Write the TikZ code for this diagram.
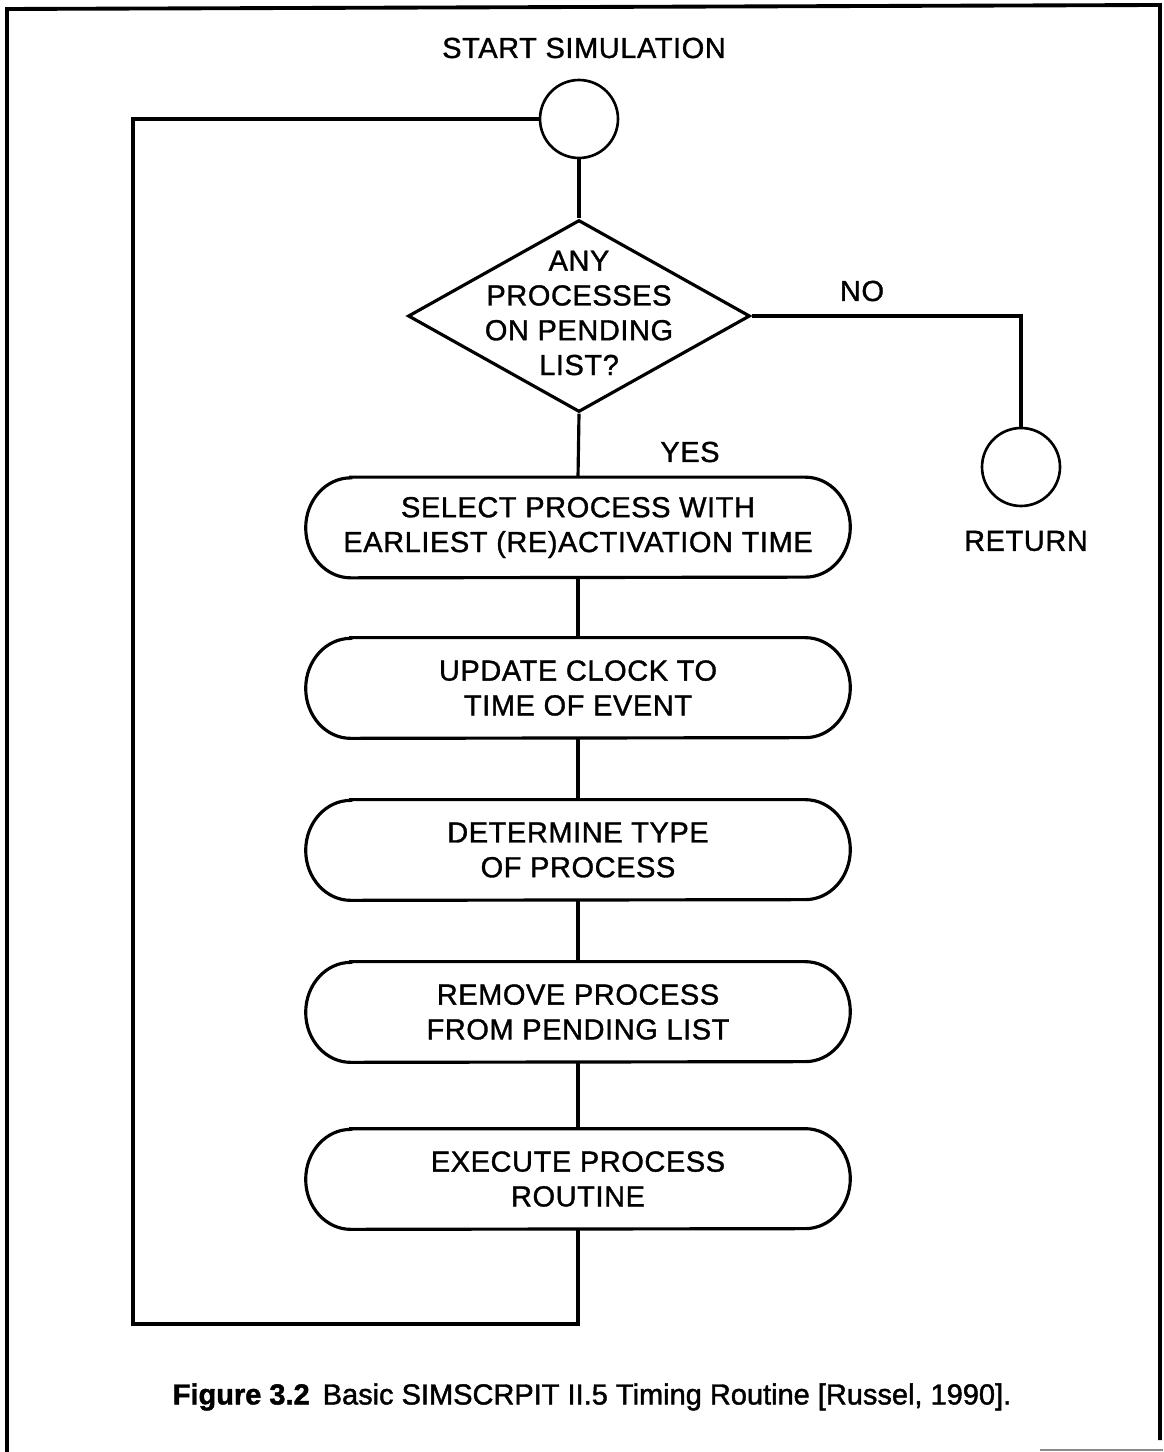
\documentclass[tikz,border=0pt]{standalone}
\usepackage{fontspec}
\setmainfont{Liberation Sans}[LetterSpace=2]
\newfontfamily\flowfont{Liberation Sans}[LetterSpace=2, FakeBold=1.2]
\newfontfamily\capfont{Liberation Sans}[FakeBold=1.5]
\usetikzlibrary{shapes.geometric}
\newcommand\stadiumoutline[1]{%
  \draw[ln] ([xshift=0.9cm]#1.north west) -- ([xshift=-0.9cm]#1.north east)
    arc[start angle=90,end angle=-90,x radius=0.9cm,y radius=1cm]
    -- ([xshift=0.9cm]#1.south west)
    arc[start angle=270,end angle=90,x radius=0.9cm,y radius=1cm] -- cycle;}
\begin{document}
\begin{tikzpicture}[x=0.02cm,y=0.02cm,
  every node/.style={font=\flowfont\fontsize{16.5}{19.8}\selectfont, align=center, inner sep=0pt},
  ln/.style={line width=1.8pt},
  boxnode/.style={rectangle, minimum width=10.88cm, minimum height=2cm},
  circ/.style={circle, draw, line width=1.5pt, minimum size=1.56cm},
]
\useasboundingbox (0,0) rectangle (1163,-1452);
% frame
\draw[line width=2.2pt] (7,-1452) -- (7,-9) -- (1160,-5) -- (1160,-1440);
\draw[line width=1pt, black!45] (1040,-1450) -- (1163,-1450);

\node (title) at (584,-48) {START SIMULATION};
\node[circ] (start) at (579,-119) {};
\node[diamond, draw, ln, minimum width=6.84cm, minimum height=3.84cm] (dec) at (579,-316) {};
\node (dectext) at (579,-313) {ANY\\PROCESSES\\ON PENDING\\LIST?};
\node[boxnode] (b1) at (578,-527.5) {SELECT PROCESS WITH\\EARLIEST (RE)ACTIVATION TIME};
\node[boxnode] (b2) at (578,-688) {UPDATE CLOCK TO\\TIME OF EVENT};
\node[boxnode] (b3) at (578,-850) {DETERMINE TYPE\\OF PROCESS};
\node[boxnode] (b4) at (578,-1012) {REMOVE PROCESS\\FROM PENDING LIST};
\node[boxnode] (b5) at (578,-1179) {EXECUTE PROCESS\\ROUTINE};
\stadiumoutline{b1}
\stadiumoutline{b2}
\stadiumoutline{b3}
\stadiumoutline{b4}
\stadiumoutline{b5}
\node[circ] (ret) at (1021,-467) {};
\node (rettext) at (1026,-541) {RETURN};
\node (no) at (862,-291) {NO};
\node (yes) at (690,-452) {YES};
\coordinate (lb) at (133,-1324);

\draw[ln] (start.south) -- (dec.north);
\draw[ln] (dec.south) -- (b1.north);
\draw[ln] (b1.south) -- (b2.north);
\draw[ln] (b2.south) -- (b3.north);
\draw[ln] (b3.south) -- (b4.north);
\draw[ln] (b4.south) -- (b5.north);
\draw[ln] (dec.east) -| (ret.north);
\draw[ln] (b5.south) |- (lb) |- (start.west);

\node (cap) at (592,-1397) {\capfont\fontsize{16.5}{19}\selectfont{\bfseries Figure 3.2}\hspace{0.45em}Basic SIMSCRPIT II.5 Timing Routine [Russel, 1990].};
\end{tikzpicture}
\end{document}
